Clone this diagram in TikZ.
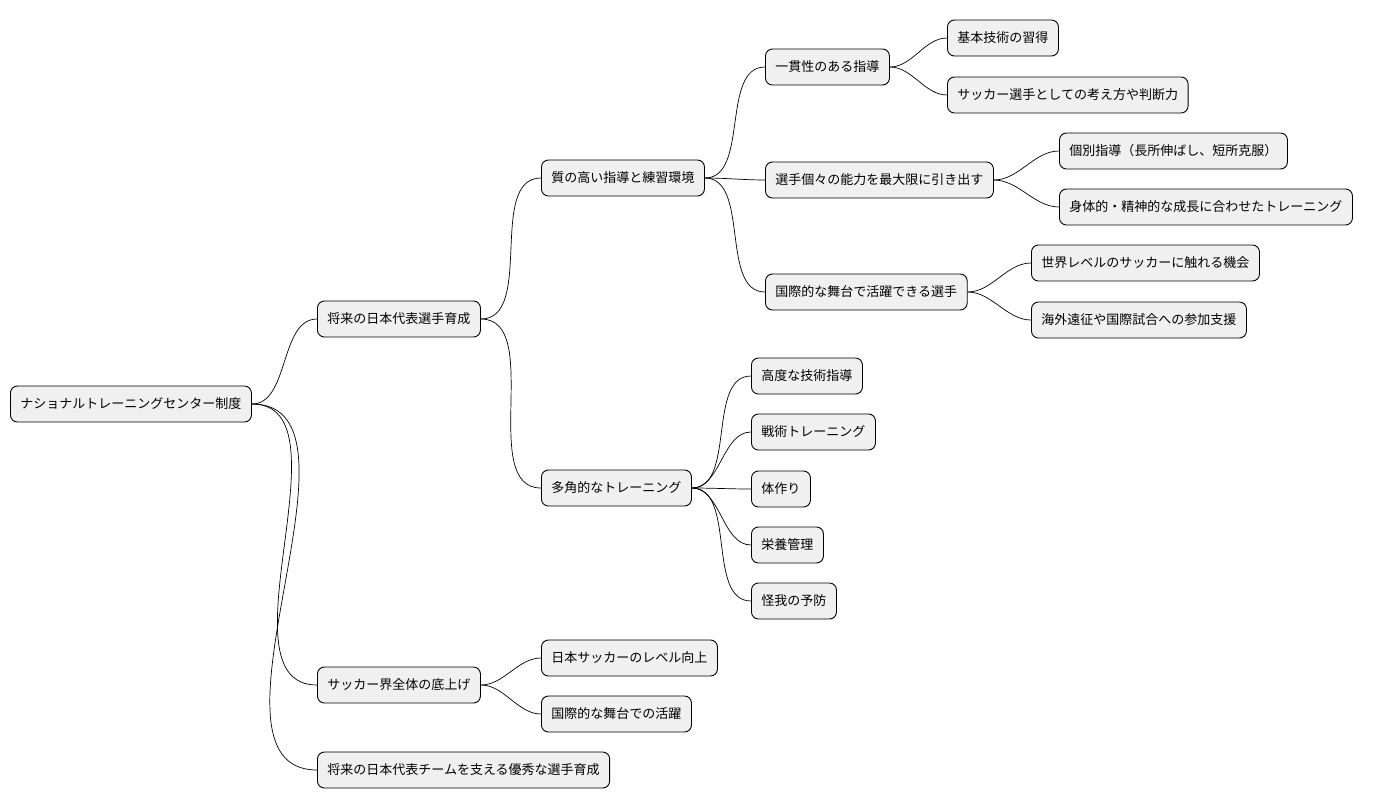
\documentclass[tikz,border=0pt]{standalone}
\usepackage{fontspec}
\setmainfont{Noto Sans CJK JP}
\begin{document}
\begin{tikzpicture}[x=1pt,y=-1pt,
  box/.style={draw=black,fill=black!6,rounded corners=7pt,minimum height=36pt,inner xsep=10pt,anchor=west,font=\fontsize{13}{15}\selectfont,line width=0.9pt},
  con/.style={draw=black,line width=0.7pt,out=0,in=180,looseness=0.9}]
\useasboundingbox (0,0) rectangle (1384,809);
\node[box] (r) at (10,404) {ナショナルトレーニングセンター制度};
\node[box] (a) at (317,319) {将来の日本代表選手育成};
\node[box] (a1) at (541,178) {質の高い指導と練習環境};
\node[box] (a11) at (765,67) {一貫性のある指導};
\node[box] (a111) at (947,38) {基本技術の習得};
\node[box] (a112) at (947,95) {サッカー選手としての考え方や判断力};
\node[box] (a12) at (765,180) {選手個々の能力を最大限に引き出す};
\node[box] (a121) at (1059,151) {個別指導（長所伸ばし、短所克服）};
\node[box] (a122) at (1059,207) {身体的・精神的な成長に合わせたトレーニング};
\node[box] (a13) at (765,292) {国際的な舞台で活躍できる選手};
\node[box] (a131) at (1031,263) {世界レベルのサッカーに触れる機会};
\node[box] (a132) at (1031,320) {海外遠征や国際試合への参加支援};
\node[box] (a2) at (541,488) {多角的なトレーニング};
\node[box] (a21) at (751,376) {高度な技術指導};
\node[box] (a22) at (751,432) {戦術トレーニング};
\node[box] (a23) at (751,489) {体作り};
\node[box] (a24) at (751,545) {栄養管理};
\node[box] (a25) at (751,601) {怪我の予防};
\node[box] (b) at (317,685) {サッカー界全体の底上げ};
\node[box] (b1) at (541,658) {日本サッカーのレベル向上};
\node[box] (b2) at (541,714) {国際的な舞台での活躍};
\node[box] (c) at (317,770) {将来の日本代表チームを支える優秀な選手育成};
\foreach \p/\c in {r/a,r/b,r/c,a/a1,a/a2,a1/a11,a1/a12,a1/a13,a11/a111,a11/a112,a12/a121,a12/a122,a13/a131,a13/a132,a2/a21,a2/a22,a2/a23,a2/a24,a2/a25,b/b1,b/b2}
  \draw[con] (\p.east) to (\c.west);
\end{tikzpicture}
\end{document}
